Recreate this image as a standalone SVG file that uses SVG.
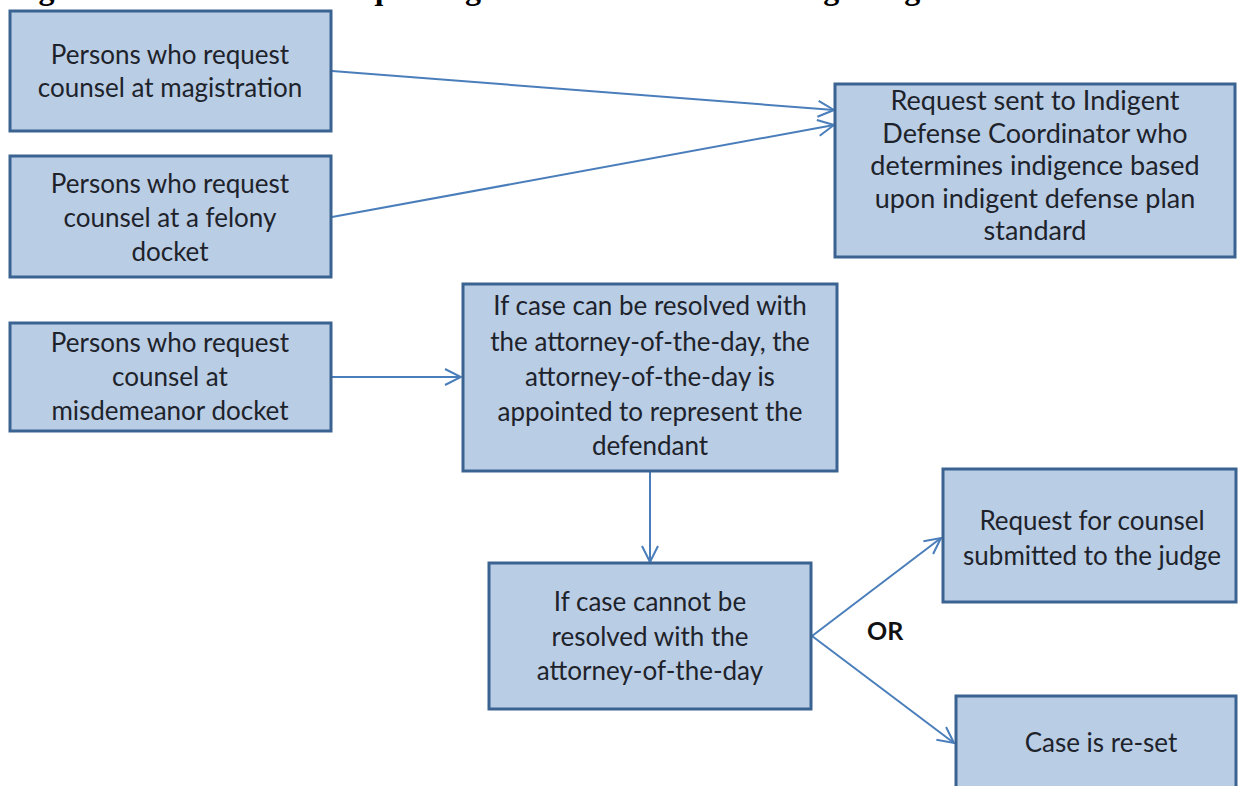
<svg xmlns="http://www.w3.org/2000/svg" width="1239" height="786" viewBox="0 0 1239 786">
<defs>
<style>
.box{fill:#b9cde5;stroke:#3b6391;stroke-width:3}
.t{font-family:Lato,"Liberation Sans",sans-serif;font-size:26px;fill:#1e232b;text-anchor:middle}
.t4{font-size:27px}
.or{font-family:Lato,"Liberation Sans",sans-serif;font-size:25px;font-weight:bold;fill:#111}
.title{font-family:"Liberation Serif","Times New Roman",serif;font-size:32px;font-weight:bold;fill:#000}
.c{fill:none;stroke:#4a7ebb;stroke-width:2}
</style>
<marker id="arr" markerUnits="userSpaceOnUse" markerWidth="20" markerHeight="20" viewBox="-18 -10 20 20" refX="0" refY="0" orient="auto">
<path d="M-16,-8 L0,0 L-16,8" fill="none" stroke="#4a7ebb" stroke-width="2"/>
</marker>
</defs>
<rect width="1239" height="786" fill="#ffffff"/>
<text class="title" x="10" y="-1">Figure 1: Processes for Requesting Counsel and Determining Indigence</text>
<g id="connectors">
<path class="c" d="M332,71 L834,110" marker-end="url(#arr)"/>
<path class="c" d="M332,217 L834,125" marker-end="url(#arr)"/>
<path class="c" d="M332,377 L461,377" marker-end="url(#arr)"/>
<path class="c" d="M650,472 L650,562" marker-end="url(#arr)"/>
<path class="c" d="M812,636 L941,538" marker-end="url(#arr)"/>
<path class="c" d="M812,636 L954,743" marker-end="url(#arr)"/>
</g>
<g id="n1"><rect class="box" x="10" y="11" width="321" height="120"/>
<text class="t" x="170" y="64">Persons who request</text>
<text class="t" x="170" y="97">counsel at magistration</text></g>
<g id="n2"><rect class="box" x="10" y="156" width="321" height="121"/>
<text class="t" x="170" y="193">Persons who request</text>
<text class="t" x="170" y="227">counsel at a felony</text>
<text class="t" x="170" y="261">docket</text></g>
<g id="n3"><rect class="box" x="10" y="323" width="321" height="108"/>
<text class="t" x="170" y="352">Persons who request</text>
<text class="t" x="170" y="386">counsel at</text>
<text class="t" x="170" y="420">misdemeanor docket</text></g>
<g id="n4"><rect class="box" x="835" y="84" width="400" height="173"/>
<text class="t t4" x="1035" y="110">Request sent to Indigent</text>
<text class="t t4" x="1035" y="143">Defense Coordinator  who</text>
<text class="t t4" x="1035" y="175">determines indigence based</text>
<text class="t t4" x="1035" y="208">upon indigent defense plan</text>
<text class="t t4" x="1035" y="240">standard</text></g>
<g id="n5"><rect class="box" x="463" y="284" width="374" height="187"/>
<text class="t" x="650" y="315">If case can be resolved with</text>
<text class="t" x="650" y="351">the attorney-of-the-day,  the</text>
<text class="t" x="650" y="386">attorney-of-the-day is</text>
<text class="t" x="650" y="421">appointed to represent the</text>
<text class="t" x="650" y="455">defendant</text></g>
<g id="n6"><rect class="box" x="489" y="563" width="322" height="146"/>
<text class="t" x="650" y="611">If case cannot be</text>
<text class="t" x="650" y="646">resolved with the</text>
<text class="t" x="650" y="680">attorney-of-the-day</text></g>
<text class="or" x="867" y="640">OR</text>
<g id="n7"><rect class="box" x="943" y="469" width="293" height="133"/>
<text class="t" x="1092" y="530">Request for counsel</text>
<text class="t" x="1092" y="565">submitted to the judge</text></g>
<g id="n8"><rect class="box" x="956" y="696" width="280" height="100"/>
<text class="t" x="1101" y="752">Case is re-set</text></g>
</svg>
